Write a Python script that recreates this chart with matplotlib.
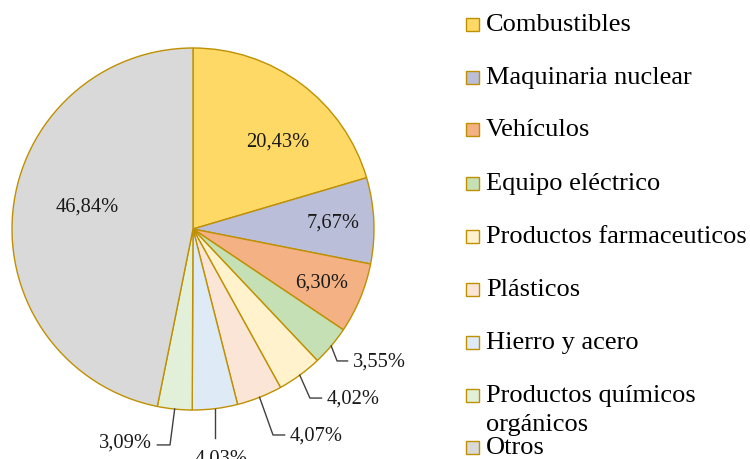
import matplotlib
matplotlib.use("Agg")
import matplotlib.pyplot as plt
from matplotlib.patches import Rectangle
import numpy as np

plt.rcParams['font.family'] = ['Liberation Serif', 'DejaVu Serif']

categories = ["Combustibles", "Maquinaria nuclear", "Vehículos", "Equipo eléctrico",
              "Productos farmaceuticos", "Plásticos", "Hierro y acero",
              "Productos químicos\norgánicos", "Otros"]
values = [20.43, 7.67, 6.30, 3.55, 4.02, 4.07, 4.03, 3.09, 46.84]
colors = ["#FFD966", "#BBBED8", "#F4B183", "#C5E0B4", "#FFF2CC",
          "#FBE5D6", "#DEEBF7", "#E2F0D9", "#D9D9D9"]
edge = "#BF9000"

W, H = 750, 460
fig = plt.figure(figsize=(W / 100, H / 100), dpi=100)

cx, cy, R = 193, 230, 181
ax = fig.add_axes([(cx - R) / W, (H - cy - R) / H, 2 * R / W, 2 * R / H])
wedges, _ = ax.pie(values, colors=colors, startangle=90, counterclock=False,
                   radius=1.0, wedgeprops=dict(edgecolor=edge, linewidth=1.0))
ax.set_xlim(-1, 1)
ax.set_ylim(-1, 1)
ax.set_aspect('equal')
ax.axis('off')

def fmt(v):
    return f"{v:.2f}%".replace('.', ',')

fs_lab = 14.8
# inside labels: (angle deg, distance) layout per slice index
inside = {0: (46.0, 0.676), 1: (None, 0.773), 2: (None, 0.77), 8: (167.8, 0.60)}
# outside labels: text anchor (x, y, ha) in radius units
outside = {3: (0.884, -0.729, 'left'),
           4: (0.740, -0.934, 'left'),
           5: (0.536, -1.138, 'left'),
           6: (0.155, -1.265, 'center'),
           7: (-0.227, -1.177, 'right')}
bends = {3: (0.796, -0.729), 4: (0.646, -0.934), 5: (0.442, -1.138),
         6: None, 7: (-0.127, -1.193)}

for i, w in enumerate(wedges):
    mid = np.deg2rad((w.theta1 + w.theta2) / 2)
    if i in inside:
        ang, d = inside[i]
        a = mid if ang is None else np.deg2rad(ang)
        ax.text(d * np.cos(a), d * np.sin(a), fmt(values[i]), ha='center', va='center',
                fontsize=fs_lab, color='#1a1a1a')
    else:
        tx, ty, ha = outside[i]
        ex, ey = np.cos(mid), np.sin(mid)
        if i == 6:
            ax.plot([ex, ex], [ey, -1.155], color='#404040', lw=1.0, clip_on=False)
            ax.text(tx, ty, fmt(values[i]), ha='center', va='center',
                    fontsize=fs_lab, color='#1a1a1a', clip_on=False)
            continue
        bx, by = bends[i]
        if ha == 'left':
            endx = tx - 0.03
        else:
            endx = tx + 0.03
        ax.plot([ex, bx, endx], [ey, by, by], color='#404040', lw=1.0, clip_on=False)
        ax.text(tx, ty, fmt(values[i]), ha=ha, va='center',
                fontsize=fs_lab, color='#1a1a1a', clip_on=False)

# manual legend
fs_leg = 19
row_y = [25, 78, 130, 184, 237, 290, 343, 396, 448]
for i, (lab, col) in enumerate(zip(categories, colors)):
    y = row_y[i]
    fig.patches.append(Rectangle(((466) / W, 1 - (y + 6.5) / H), 12.5 / W, 12.5 / H,
                                 transform=fig.transFigure, facecolor=col,
                                 edgecolor=edge, linewidth=1.0))
    lines = lab.split("\n")
    for j, ln in enumerate(lines):
        fig.text(486 / W, 1 - (y + 29 * j) / H, ln, ha='left', va='center',
                 fontsize=fs_leg, color='#000000')

fig.savefig("out.png", dpi=100)
